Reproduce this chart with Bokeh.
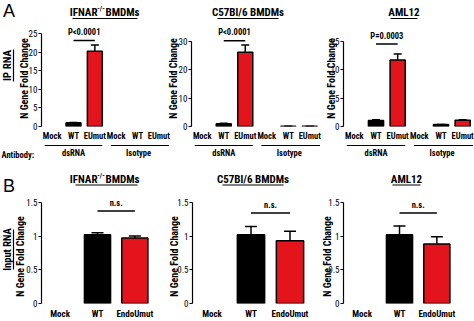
from bokeh.plotting import figure
from bokeh.models import (FactorRange, Range1d, FixedTicker, Label, Whisker, TeeHead,
                          ColumnDataSource, GridBox)
from bokeh.layouts import row, column
from bokeh.embed import file_html
from bokeh.resources import INLINE

# ---------------- data ----------------
ip_groups = ["dsRNA", "Isotype"]
ip_conditions = ["Mock", "WT", "EUmut"]
input_conditions = ["Mock", "WT", "EndoUmut"]

ifnar_ip_dsrna = [0.0, 1.0, 20.3]
ifnar_ip_dsrna_err = [0.0, 0.1, 1.7]
ifnar_ip_isotype = [0.0, 0.0, 0.0]
ifnar_ip_isotype_err = [0.0, 0.0, 0.0]

c57_ip_dsrna = [0.0, 1.0, 26.1]
c57_ip_dsrna_err = [0.0, 0.1, 2.6]
c57_ip_isotype = [0.0, 0.12, 0.12]
c57_ip_isotype_err = [0.0, 0.0, 0.0]

aml_ip_dsrna = [0.0, 1.05, 11.7]
aml_ip_dsrna_err = [0.0, 0.12, 1.05]
aml_ip_isotype = [0.0, 0.35, 1.1]
aml_ip_isotype_err = [0.0, 0.0, 0.1]

ifnar_input = [0.0, 1.02, 0.97]
ifnar_input_err = [0.0, 0.03, 0.03]
c57_input = [0.0, 1.02, 0.93]
c57_input_err = [0.0, 0.12, 0.14]
aml_input = [0.0, 1.02, 0.88]
aml_input_err = [0.0, 0.13, 0.11]

ip_pvalues = ["P<0.0001", "P<0.0001", "P=0.0003"]
ip_sig_levels = [23.2, 30.2, 14.5]
input_pvalues = ["n.s.", "n.s.", "n.s."]
input_sig_levels = [1.37, 1.34, 1.34]

ip_yticks = [[0, 5, 10, 15, 20, 25], [0, 10, 20, 30], [0, 5, 10, 15]]
ip_ytops = [28.59, 37.28, 18.64]
input_yticks = [0, 0.5, 1, 1.5]
input_ytop = 1.6

cell_titles = ["IFNAR", "C57Bl/6 BMDMs", "AML12"]
ylabel_text = "N Gene Fold Change"

# ---------------- style ----------------
FONT = "Roboto Condensed"
FONT_PLAIN = "Liberation Sans"
RED = "#e3141b"
COLORS = {"Mock": "white", "WT": "black", "EUmut": RED, "EndoUmut": RED}
TICK = "8.5px"
YTICK = "9px"


def make_fig(width, height, left, right, top, bottom, x_range, ytop, ticks, overrides=None):
    p = figure(width=width, height=height, x_range=x_range, y_range=Range1d(0, ytop),
               output_backend="svg", toolbar_location=None, tools="",
               min_border_left=left, min_border_right=right,
               min_border_top=top, min_border_bottom=bottom)
    p.outline_line_color = None
    p.grid.grid_line_color = None
    p.background_fill_color = None
    p.border_fill_color = None
    ya = p.yaxis[0]
    ya.ticker = FixedTicker(ticks=ticks)
    ya.bounds = (0, ticks[-1])
    ya.axis_line_width = 1.2
    ya.axis_line_color = "black"
    ya.major_tick_out = 3
    ya.major_tick_in = 0
    ya.minor_tick_line_color = None
    ya.minor_tick_out = 0
    ya.major_tick_line_width = 1.2
    ya.major_tick_line_color = "black"
    ya.major_label_standoff = 1
    ya.major_label_text_font = FONT
    ya.major_label_text_font_size = YTICK
    ya.major_label_text_color = "black"
    if overrides:
        ya.major_label_overrides = overrides
    xa = p.xaxis[0]
    xa.axis_line_color = None
    xa.major_tick_line_color = None
    xa.minor_tick_line_color = None
    xa.major_tick_out = 0
    xa.major_tick_in = 0
    xa.minor_tick_out = 0
    xa.major_label_text_font = FONT
    xa.major_label_text_font_size = TICK
    xa.major_label_text_font_style = "bold"
    xa.major_label_text_color = "black"
    return p


def bars(p, factors, values, errs, conds, cap):
    xs, tops, ups, cols = [], [], [], []
    for f, v, e, c in zip(factors, values, errs, conds):
        if v > 0:
            xs.append(f)
            tops.append(v)
            ups.append(v + e)
            cols.append(COLORS[c])
    src = ColumnDataSource(dict(x=xs, top=tops, up=ups, color=cols))
    p.vbar(x="x", top="top", bottom=0, width=0.7, source=src, fill_color="color",
           line_color="black", line_width=1.5)
    p.add_layout(Whisker(source=src, base="x", lower="top", upper="up",
                         upper_head=TeeHead(size=cap, line_width=1.5, line_color="black"),
                         lower_head=None, line_width=1.5, line_color="black"))


def sig_label(p, x, y, text):
    p.add_layout(Label(x=x, y=y, text=text, text_font=FONT, text_font_size=TICK,
                       text_font_style="bold", text_align="center",
                       text_baseline="middle", text_color="black"))


# ---------------- overlay for texts that sit outside the plot frames ----------------
ov = figure(width=474, height=321, x_range=Range1d(0, 474), y_range=Range1d(321, 0),
            output_backend="svg", toolbar_location=None, tools="", min_border=0,
            background_fill_color=None, border_fill_color=None)
ov.axis.visible = False
ov.grid.grid_line_color = None
ov.outline_line_color = None


def otext(x, y, text, size="10px", align="center", bold=True, angle=0, font=FONT):
    ov.add_layout(Label(x=x, y=y, text=text, text_font=font, text_font_size=size,
                        text_align=align, text_baseline="middle",
                        text_font_style="bold" if bold else "normal",
                        angle=angle, angle_units="deg", text_color="black"))


def oline(x0, y0, x1, y1, width=1.1):
    ov.segment(x0=[x0], y0=[y0], x1=[x1], y1=[y1], line_width=width, line_color="black")


# ---------------- top row (IP RNA) ----------------
top_geo = [  # page x0, width, border left, border right
    (0, 170, 41, 1),
    (170, 155, 21, 5),
    (325, 149, 18, 1),
]
ip_data = [
    (ifnar_ip_dsrna, ifnar_ip_dsrna_err, ifnar_ip_isotype, ifnar_ip_isotype_err),
    (c57_ip_dsrna, c57_ip_dsrna_err, c57_ip_isotype, c57_ip_isotype_err),
    (aml_ip_dsrna, aml_ip_dsrna_err, aml_ip_isotype, aml_ip_isotype_err),
]
title_pos_top = [(72, 137), (217, 278), (390, 417)]
ylabel_x_top = [24, 173, 330.5]

top_figs = []
for i, ((x0, w, l, r), (ds, dse, iso, isoe)) in enumerate(zip(top_geo, ip_data)):
    H, T, B = 160, 20, 34
    factors = [(g, c) for g in ip_groups for c in ip_conditions]
    xr = FactorRange(factors=factors, group_padding=0, factor_padding=0,
                     subgroup_padding=0, range_padding=0)
    p = make_fig(w, H, l, r, T, B, xr, ip_ytops[i], ip_yticks[i])
    xa = p.xaxis[0]
    xa.group_text_color = None
    xa.group_text_font_size = "1px"
    xa.separator_line_color = None
    xa.major_label_standoff = 4
    ppu = (H - T - B) / ip_ytops[i]
    bars(p, factors, ds + iso, dse + isoe, ip_conditions * 2, 8)
    p.segment(x0=[("dsRNA", "WT")], y0=[ip_sig_levels[i]], x1=[("dsRNA", "EUmut")],
              y1=[ip_sig_levels[i]], line_width=1.5, line_color="black")
    sig_label(p, 2.0, ip_sig_levels[i] + 8.5 / ppu, ip_pvalues[i])
    top_figs.append(p)

    # overlay parts of this cell
    fl = x0 + l
    cat = (w - l - r) / 6.0
    oline(fl + 0.15 * cat, 145, fl + 2.85 * cat, 145, 1.2)
    oline(fl + 3.25 * cat, 145, fl + 6.0 * cat - 0.5, 145, 1.2)
    otext(fl + 1.5 * cat, 152.5, ip_groups[0], size=TICK)
    otext(fl + 4.55 * cat, 152.5, ip_groups[1], size=TICK)
    otext(ylabel_x_top[i], 78, ylabel_text, size="10px", angle=90)
    tx0, tx1 = title_pos_top[i]
    if i == 0:
        otext(97, 12, cell_titles[i], size="11px", align="right")
        otext(100.5, 8, "-/-", size="7px")
        otext(105, 12, "BMDMs", size="11px", align="left")
    else:
        otext((tx0 + tx1) / 2, 12, cell_titles[i], size="11px")
    oline(tx0, 18, tx1, 18, 1.0)

otext(8.5, 10, "A", size="18px", bold=False, font=FONT_PLAIN)
otext(7, 65, "IP RNA", size="11px", angle=90)
oline(13, 49, 13, 81, 1.2)
otext(1, 154, "Antibody:", size=TICK, align="left")

# ---------------- bottom row (Input RNA) ----------------
bot_geo = [
    (0, 160, 41, 7),
    (160, 155, 32, 6),
    (315, 159, 28, 19),
]
input_data = [
    (ifnar_input, ifnar_input_err),
    (c57_input, c57_input_err),
    (aml_input, aml_input_err),
]
title_pos_bot = [(75, 137), (222, 283), (392, 420)]
ylabel_x_bot = [20, 174, 327]
overrides = {0: "0", 0.5: "0.5", 1: "1", 1.5: "1.5"}

bot_figs = []
for i, ((x0, w, l, r), (vals, errs)) in enumerate(zip(bot_geo, input_data)):
    H, T, B = 161, 35, 18
    xr = FactorRange(factors=input_conditions, factor_padding=0, range_padding=0)
    p = make_fig(w, H, l, r, T, B, xr, input_ytop, input_yticks, overrides)
    p.xaxis[0].major_label_standoff = 5
    p.xaxis[0].major_label_text_font_size = "9px"
    ppu = (H - T - B) / input_ytop
    bars(p, input_conditions, vals, errs, input_conditions, 12)
    p.segment(x0=["WT"], y0=[input_sig_levels[i]], x1=["EndoUmut"],
              y1=[input_sig_levels[i]], line_width=1.5, line_color="black")
    sig_label(p, 2.0, input_sig_levels[i] + 8 / ppu, input_pvalues[i])
    bot_figs.append(p)

    otext(ylabel_x_bot[i], 256, ylabel_text, size="10px", angle=90)
    tx0, tx1 = title_pos_bot[i]
    if i == 0:
        otext(97, 179, cell_titles[i], size="11px", align="right")
        otext(100.5, 175, "-/-", size="7px")
        otext(105, 179, "BMDMs", size="11px", align="left")
    else:
        otext((tx0 + tx1) / 2, 179, cell_titles[i], size="11px")
    oline(tx0, 184.5, tx1, 184.5, 1.0)

otext(8.5, 185, "B", size="18px", bold=False, font=FONT_PLAIN)
otext(7, 249, "Input RNA", size="10.5px", angle=90)
oline(13, 229, 13, 269, 1.2)

panels = column(row(*top_figs, spacing=0), row(*bot_figs, spacing=0), spacing=0)
layout = GridBox(children=[(panels, 0, 0), (ov, 0, 0)])

open("out.html", "w").write(file_html(layout, INLINE))
